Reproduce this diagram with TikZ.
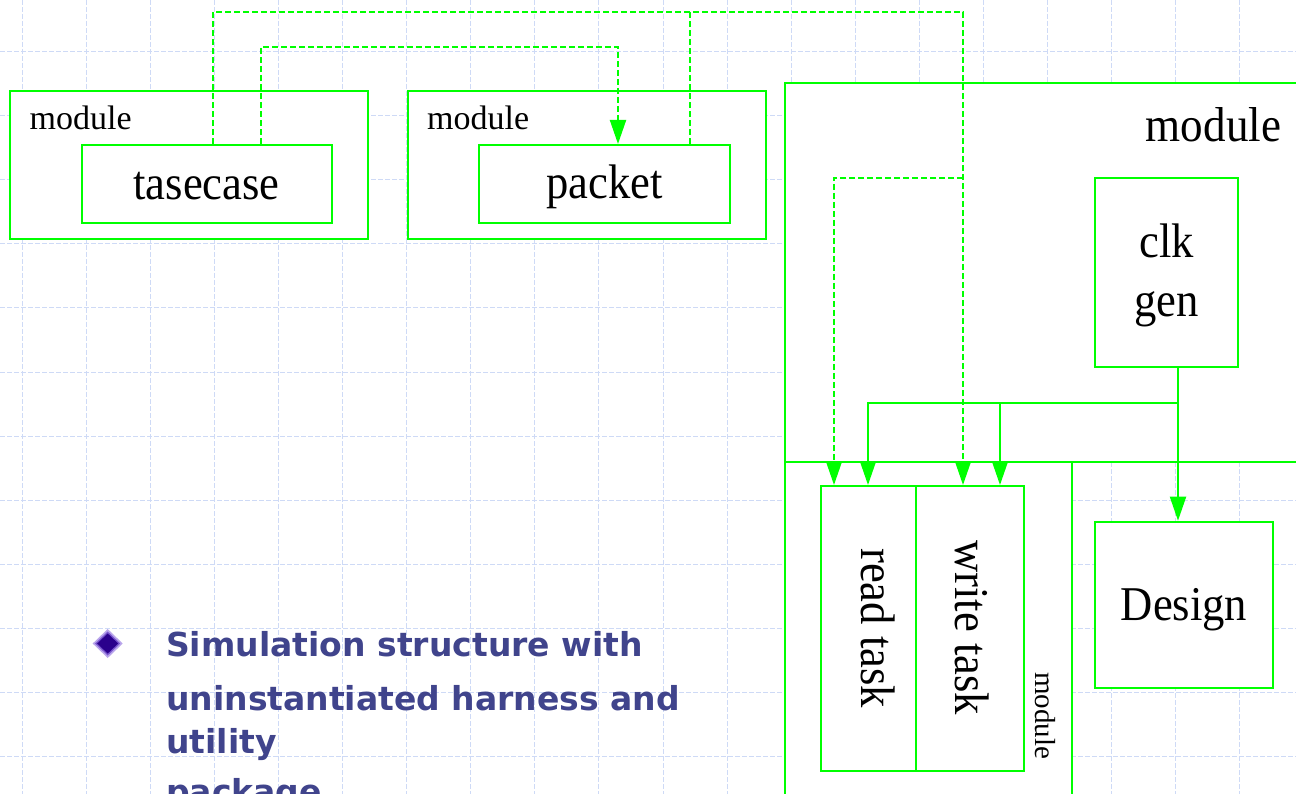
\documentclass[tikz,border=0pt]{standalone}
\usepackage{fontspec}
\usetikzlibrary{arrows.meta,fit}
\setmainfont{Liberation Serif}
\newfontfamily\boxfont[FakeStretch=0.92]{Liberation Serif}
\newfontfamily\notefont{DejaVu Sans}

\definecolor{wire}{RGB}{0,255,0}
\definecolor{gridblue}{RGB}{206,218,246}
\definecolor{notecol}{RGB}{64,68,140}
\definecolor{bulletout}{RGB}{185,165,235}
\definecolor{bulletring}{RGB}{120,85,205}
\definecolor{bulletin}{RGB}{42,0,140}

\begin{document}
\begin{tikzpicture}[x=1pt,y=-1pt,
  gridline/.style={draw=gridblue, line width=1pt, dash pattern=on 5pt off 2pt},
  box/.style={draw=wire, line width=2pt, fill=white, inner sep=0pt},
  lbl/.style={inner sep=0pt, font={\boxfont\fontsize{48.5pt}{58pt}\selectfont}},
  biglbl/.style={inner sep=0pt, font={\boxfont\fontsize{49pt}{58pt}\selectfont}},
  modlbl/.style={inner sep=0pt, font={\fontsize{34pt}{40pt}\selectfont}},
  smallmod/.style={inner sep=0pt, font={\fontsize{29pt}{34pt}\selectfont}},
  note/.style={inner sep=0pt, text=notecol, font={\notefont\bfseries\fontsize{33pt}{40pt}\selectfont}},
  tip/.style={-{Triangle[length=24pt,width=16pt]}},
  dbus/.style={draw=wire, line width=2pt, dash pattern=on 6pt off 3pt, tip},
  sig/.style={draw=wire, line width=2pt, tip}]

% page and clipping frame
\useasboundingbox (0,0) rectangle (1296,794);
\clip (0,0) rectangle (1296,794);
\fill[white] (0,0) rectangle (1296,794);

% background grid
\foreach \i in {0,...,19} \draw[gridline] (22+64.1*\i,0) -- (22+64.1*\i,794);
\foreach \j in {0,...,11} \draw[gridline] (0,52+64*\j) -- (1296,52+64*\j);

% left modules
\node[box, fit={(10,91.5) (367.5,239.5)}] (m1) {};
\node[box, fit={(81.7,145) (331.7,222.8)}] (tc) {};
\node[box, fit={(408.4,91.5) (765.5,239.5)}] (m2) {};
\node[box, fit={(479.2,145) (729.9,223.3)}] (pk) {};

% right-hand modules
\node[box, fit={(785.3,82.7) (1310,462.3)}] (mtop) {};
\node[box, fit={(785.3,462.3) (1071.7,810)}] (mlow) {};
\node[box, fit={(1095,177.7) (1238.3,366.7)}] (clk) {};
\node[box, fit={(1095,521.7) (1273.3,687.7)}] (ds) {};
\node[box, fit={(820.7,486) (928,771)}] (rt) {};
\node[box, fit={(916,486) (1024,771)}] (wt) {};

% junction points of the buses
\coordinate (jtop) at (963,12);
\coordinate (jpk) at (690,12);
\coordinate (jmid) at (963,178);
\coordinate (jloop) at (618,47);
\coordinate (jclk) at (1178,403);

% dashed task buses
\draw[dbus] (213,0 |- tc.north) |- (jtop) -- (jtop |- wt.north);
\draw[dbus, -] (690,0 |- pk.north) -- (jpk);
\draw[dbus] (jmid) -| (834,0 |- rt.north);
\draw[dbus] (261,0 |- tc.north) |- (jloop) -- (jloop |- pk.north);

% clock distribution
\draw[sig] (1178,0 |- clk.south) -- (1178,0 |- ds.north);
\draw[sig] (jclk) -| (868,0 |- rt.north);
\draw[sig] (1000,0 |- jclk) -- (1000,0 |- wt.north);

% labels
\node[modlbl, anchor=base west] (m1T) at (29.5,130) {module};
\node[modlbl, anchor=base west] (m2T) at (427,130) {module};
\node[lbl, anchor=base] (tcT) at (206.5,200) {tasecase};
\node[lbl, anchor=base] (pkT) at (604.5,198.3) {packet};
\node[biglbl, anchor=base] (mtopT) at (1213.5,141.7) {module};
\node[lbl, anchor=base] (clkT) at (1166.5,258) {clk};
\node[lbl, anchor=base] (genT) at (1166.5,316.7) {gen};
\node[lbl, anchor=base] (dsT) at (1184,620) {Design};
\node[lbl, rotate=-90, anchor=base west] (rtT) at (861,548) {read task};
\node[lbl, rotate=-90, anchor=base west] (wtT) at (955.5,540) {write task};
\node[smallmod, rotate=-90, anchor=base west] (mlowT) at (1035.5,672) {module};

% bullet point
\fill[bulletout] (92.7,643.5) -- (107.7,629) -- (122.7,643.5) -- (107.7,658) -- cycle;
\fill[bulletring] (95.2,643.5) -- (107.7,631.5) -- (120.2,643.5) -- (107.7,655.5) -- cycle;
\fill[bulletin] (97.2,643.5) -- (107.7,633.5) -- (118.2,643.5) -- (107.7,653.5) -- cycle;

\node[note, anchor=base west] (n1) at (166,656) {Simulation structure with};
\node[note, anchor=base west] (n2) at (166,710.7) {uninstantiated harness and};
\node[note, anchor=base west] (n3) at (166,753.3) {utility};
\node[note, anchor=base west] (n4) at (166,803) {package};
\end{tikzpicture}
\end{document}
